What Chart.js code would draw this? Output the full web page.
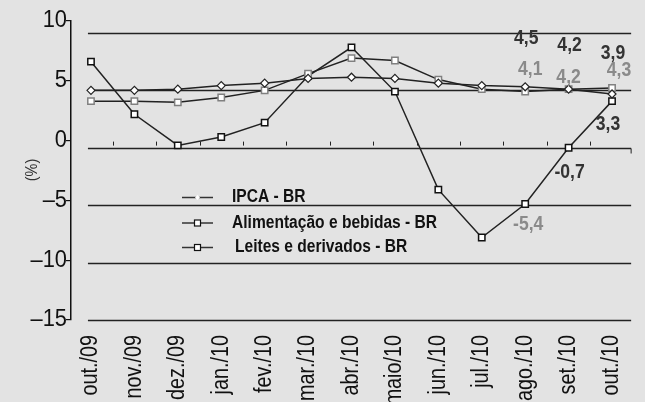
<!DOCTYPE html>
<html>
<head>
<meta charset="utf-8">
<script src="https://cdn.jsdelivr.net/npm/chart.js@4/dist/chart.umd.min.js"></script>
<style>
  html, body { margin: 0; padding: 0; background: #e3e3e3; }
  #wrap { width: 645px; height: 402px; }
</style>
</head>
<body>
<div id="wrap"><canvas id="chart"></canvas></div>
<script>
const months = ['out./09', 'nov./09', 'dez./09', 'jan./10', 'fev./10', 'mar./10', 'abr./10',
  'maio/10', 'jun./10', 'jul./10', 'ago./10', 'set./10', 'out./10'];
const yTicks = [10, 5, 0, -5, -10, -15];
const ipca = [4.2, 4.2, 4.3, 4.6, 4.8, 5.2, 5.3, 5.2, 4.8, 4.6, 4.5, 4.3, 3.9];
const alimentos = [3.3, 3.3, 3.2, 3.6, 4.2, 5.6, 6.9, 6.7, 5.1, 4.3, 4.1, 4.3, 4.4];
const leites = [6.6, 2.2, -0.4, 0.3, 1.5, 5.4, 7.8, 4.1, -4.1, -8.1, -5.3, -0.6, 3.3];

// value labels at the right side
const noteTexts = ['4,5', '4,2', '3,9', '4,1', '4,2', '4,3', '3,3', '-0,7', '-5,4'];
const noteSeries = ['ipca', 'ipca', 'ipca', 'alim', 'alim', 'alim', 'leite', 'leite', 'leite'];
const noteIndex = [10, 11, 12, 10, 11, 12, 12, 11, 10];
const noteGray = [false, false, false, true, true, true, false, false, true];
const noteOffsets = [
  [1, -48], [1, -44], [1, -40],
  [5, -22], [0, -12], [7, -17],
  [-4, 23], [1, 25], [3, 20]
];

const FONT = '"Liberation Sans", Arial, sans-serif';
const DARK = '#222';
const GRAY = '#808080';

const toPoints = arr => arr.map((v, i) => ({ x: i, y: v }));

// condensed text: squeeze horizontally along the text direction
function narrowText(ctx, text, x, y, sx, align, rot) {
  ctx.save();
  ctx.translate(x, y);
  if (rot) ctx.rotate(rot);
  ctx.scale(sx, 1);
  ctx.textAlign = align;
  ctx.fillText(text, 0, 0);
  ctx.restore();
}

const extras = {
  id: 'extras',
  beforeDatasetsDraw(chart) {
    const { ctx, scales: { x, y, g } } = chart;
    ctx.save();
    // offset horizontal rules
    ctx.strokeStyle = DARK;
    ctx.lineWidth = 1.5;
    const x0 = x.getPixelForValue(-0.07);
    const x1 = x.getPixelForValue(12.44);
    for (let k = 0; k <= 5; k++) {
      const py = Math.round(g.getPixelForValue(k)) + 0.5;
      ctx.beginPath();
      ctx.moveTo(x0, py);
      ctx.lineTo(x1, py);
      ctx.stroke();
    }
    // small category ticks at zero
    ctx.lineWidth = 1;
    const y0 = y.getPixelForValue(0);
    for (let i = 0; i < months.length - 1; i++) {
      const px = Math.round(x.getPixelForValue(i + 0.5)) + 0.5;
      ctx.beginPath();
      ctx.moveTo(px, y0 + 1);
      ctx.lineTo(px, y0 + 5);
      ctx.stroke();
    }
    const yr = Math.round(g.getPixelForValue(3)) + 0.5;
    ctx.beginPath();
    ctx.moveTo(x1, yr);
    ctx.lineTo(x1, yr + 5);
    ctx.stroke();
    ctx.restore();
  },
  afterDatasetsDraw(chart) {
    const { ctx, scales: { x, y } } = chart;
    const src = { ipca, alim: alimentos, leite: leites };
    ctx.save();
    ctx.textBaseline = 'middle';

    // axis labels
    ctx.fillStyle = '#111';
    ctx.font = '23px ' + FONT;
    months.forEach((m, i) => {
      narrowText(ctx, m, x.getPixelForValue(i), 335, 0.86, 'right', -Math.PI / 2);
    });
    ctx.font = '23px ' + FONT;
    yTicks.forEach(v => {
      narrowText(ctx, String(v).replace('-', '\u2013'), 67, y.getPixelForValue(v), 0.95, 'right');
    });

    // value notes
    ctx.font = 'bold 20px ' + FONT;
    noteTexts.forEach((t, i) => {
      const idx = noteIndex[i];
      const v = src[noteSeries[i]][idx];
      ctx.fillStyle = noteGray[i] ? '#8a8a8a' : '#333';
      narrowText(ctx, t, x.getPixelForValue(idx) + noteOffsets[i][0],
        y.getPixelForValue(v) + noteOffsets[i][1], 0.88, 'center');
    });

    // legend
    const rows = [
      { text: 'IPCA - BR', y: 197.5, tx: 232, mark: 'dot' },
      { text: 'Alimentação e bebidas - BR', y: 223, tx: 232, mark: 'square' },
      { text: 'Leites e derivados - BR', y: 247.5, tx: 235, mark: 'square' }
    ];
    ctx.font = 'bold 18px ' + FONT;
    rows.forEach(r => {
      ctx.strokeStyle = '#333';
      ctx.lineWidth = 1.5;
      ctx.beginPath();
      ctx.moveTo(182, r.y);
      ctx.lineTo(213, r.y);
      ctx.stroke();
      ctx.fillStyle = '#fff';
      if (r.mark === 'dot') {
        ctx.beginPath();
        ctx.moveTo(197.5, r.y - 2.5);
        ctx.lineTo(200, r.y);
        ctx.lineTo(197.5, r.y + 2.5);
        ctx.lineTo(195, r.y);
        ctx.closePath();
        ctx.fill();
      } else {
        ctx.strokeStyle = '#111';
        ctx.lineWidth = 1.2;
        ctx.fillRect(194.5, r.y - 3, 6, 6);
        ctx.strokeRect(194.5, r.y - 3, 6, 6);
      }
      ctx.fillStyle = '#111';
      narrowText(ctx, r.text, r.tx, r.y, 0.865, 'left');
    });

    // y title
    ctx.font = '16px ' + FONT;
    ctx.fillStyle = '#333';
    narrowText(ctx, '(%)', 33, 170, 0.9, 'center', -Math.PI / 2);
    ctx.restore();
  }
};

new Chart(document.getElementById('chart'), {
  type: 'line',
  data: {
    datasets: [
      {
        label: 'IPCA - BR',
        data: toPoints(ipca),
        borderColor: DARK,
        borderWidth: 1.5,
        pointStyle: 'rectRot',
        pointRadius: 4,
        pointBackgroundColor: '#fff',
        pointBorderColor: DARK,
        pointBorderWidth: 1.2
      },
      {
        label: 'Alimentação e bebidas - BR',
        data: toPoints(alimentos),
        borderColor: DARK,
        borderWidth: 1.5,
        pointStyle: 'rect',
        pointRadius: 4.5,
        pointBackgroundColor: '#fff',
        pointBorderColor: GRAY,
        pointBorderWidth: 1.5
      },
      {
        label: 'Leites e derivados - BR',
        data: toPoints(leites),
        borderColor: DARK,
        borderWidth: 1.5,
        pointStyle: 'rect',
        pointRadius: 4.5,
        pointBackgroundColor: '#fff',
        pointBorderColor: '#111',
        pointBorderWidth: 1.5
      }
    ]
  },
  options: {
    responsive: true,
    maintainAspectRatio: false,
    animation: false,
    devicePixelRatio: 1,
    layout: { padding: { top: 21, right: 13, left: 0, bottom: 0 } },
    plugins: { legend: { display: false }, tooltip: { enabled: false } },
    scales: {
      x: {
        type: 'linear',
        min: -0.46,
        max: 12.46,
        grid: { display: false },
        border: { display: false },
        ticks: { display: false, stepSize: 1, includeBounds: false },
        afterFit: s => { s.height = 82; }
      },
      y: {
        min: -15,
        max: 10,
        grid: { drawOnChartArea: false, color: '#111', tickLength: 5, lineWidth: 1.2 },
        border: { color: '#111', width: 1.5 },
        ticks: { display: false, stepSize: 5 },
        afterFit: s => { s.width = 71; }
      },
      g: {
        axis: 'y',
        display: false,
        min: 0,
        max: 5.2
      }
    }
  },
  plugins: [extras]
});
</script>
</body>
</html>
